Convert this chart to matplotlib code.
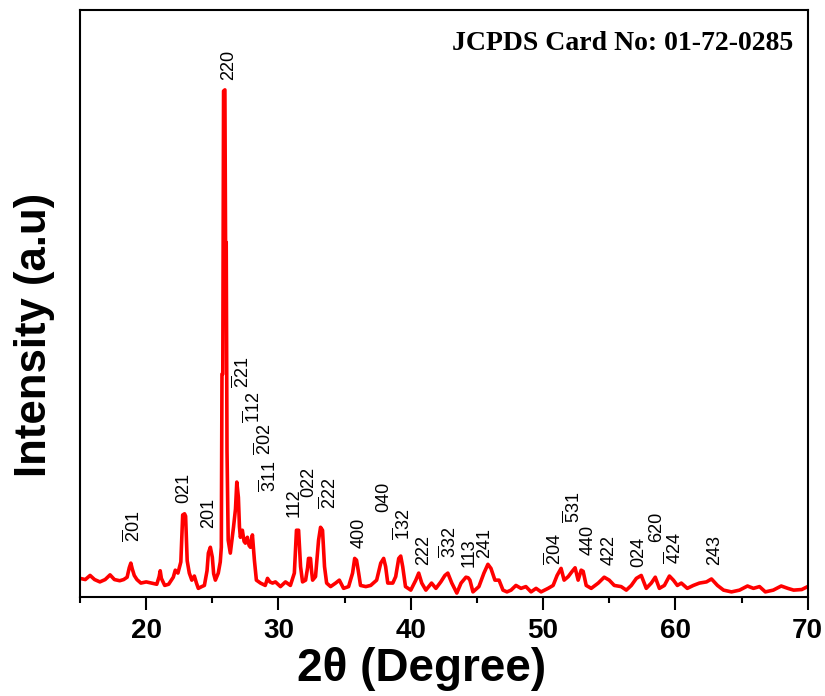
import matplotlib
matplotlib.use("Agg")
import matplotlib.pyplot as plt

plt.rcParams["font.family"] = ["Liberation Sans", "DejaVu Sans"]
plt.rcParams["mathtext.fontset"] = "custom"
plt.rcParams["mathtext.rm"] = "Liberation Sans"
plt.rcParams["mathtext.it"] = "Liberation Sans"
plt.rcParams["mathtext.bf"] = "Liberation Sans:bold"

# XRD scan: 2-theta (deg) and intensity (arbitrary units)
two_theta = [
    15.0, 15.4, 15.76, 16.1, 16.5, 16.9, 17.27, 17.6, 18.0, 18.3, 18.56, 18.72,
    18.84, 18.95, 19.1, 19.3, 19.6, 20.0, 20.4, 20.8, 20.98, 21.06, 21.15, 21.4,
    21.7, 22.05, 22.2, 22.4, 22.62, 22.76, 22.9, 22.98, 23.1, 23.26, 23.45, 23.64,
    23.8, 23.94, 24.2, 24.4, 24.6, 24.7, 24.85, 25.0, 25.1, 25.23, 25.45, 25.6,
    25.68, 25.73, 25.79, 25.85, 25.95, 26.0, 26.05, 26.11, 26.2, 26.36, 26.6,
    26.75, 26.85, 26.97, 27.05, 27.12, 27.27, 27.4, 27.5, 27.65, 27.78, 27.88,
    28.03, 28.18, 28.33, 28.64, 29.0, 29.17, 29.35, 29.55, 29.77, 30.15, 30.53,
    30.9, 31.2, 31.36, 31.52, 31.67, 31.82, 32.05, 32.2, 32.27, 32.42, 32.5,
    32.58, 32.8, 33.03, 33.18, 33.33, 33.48, 33.64, 33.94, 34.32, 34.6, 34.92,
    35.3, 35.6, 35.76, 35.9, 36.06, 36.2, 36.6, 36.97, 37.42, 37.73, 37.95, 38.1,
    38.26, 38.64, 38.86, 39.09, 39.24, 39.39, 39.6, 40.0, 40.38, 40.6, 40.83,
    41.14, 41.57, 41.9, 42.27, 42.58, 42.8, 43.1, 43.48, 43.8, 44.17, 44.34,
    44.47, 44.7, 45.15, 45.53, 45.83, 46.06, 46.36, 46.67, 46.97, 47.27, 47.58,
    47.95, 48.33, 48.7, 49.09, 49.47, 49.85, 50.38, 50.76, 51.06, 51.36, 51.59,
    51.9, 52.2, 52.42, 52.65, 52.88, 53.03, 53.26, 53.64, 54.17, 54.62, 55.0,
    55.38, 55.9, 56.29, 56.67, 57.05, 57.42, 57.8, 58.18, 58.48, 58.79, 59.17,
    59.55, 59.85, 60.15, 60.45, 60.9, 61.36, 61.82, 62.35, 62.73, 63.18, 63.64,
    64.24, 64.85, 65.45, 65.9, 66.36, 66.8, 67.4, 68.0, 68.5, 68.94, 69.55, 70.0,
]
intensity = [
    32, 30, 37, 30, 26, 30, 38, 30, 28, 30, 34, 50,
    58, 48, 37, 30, 24, 26, 24, 22, 35, 45, 32, 20,
    22, 34, 46, 41, 60, 140, 142, 138, 62, 41, 29, 36,
    24, 15, 18, 20, 45, 75, 85, 68, 40, 29, 41, 60,
    85, 380, 380, 862, 864, 604, 604, 250, 97, 75, 119,
    150, 196, 170, 120, 102, 114, 95, 92, 102, 88, 85,
    106, 63, 29, 24, 20, 32, 26, 24, 26, 18, 26,
    20, 41, 114, 114, 52, 26, 29, 50, 66, 66, 45,
    29, 35, 97, 119, 114, 52, 24, 18, 24, 29, 15,
    18, 41, 66, 63, 41, 20, 18, 20, 29, 58, 66, 52,
    24, 24, 35, 66, 70, 52, 18, 12, 29, 41, 24,
    12, 24, 15, 26, 37, 41, 24, 7, 24, 34, 33,
    29, 9, 18, 41, 56, 49, 29, 29, 12, 9, 12,
    20, 15, 18, 9, 15, 9, 15, 20, 37, 49, 29,
    35, 44, 50, 29, 46, 44, 20, 15, 24, 34, 29,
    20, 18, 12, 20, 32, 37, 15, 24, 34, 15, 20,
    36, 29, 20, 24, 15, 20, 24, 26, 31, 20, 12,
    9, 12, 19, 15, 18, 9, 12, 19, 15, 12, 13, 18,
]

# Miller indices (overbar = negative index), with label position and base height
hkl_labels = [
    r"$\overline{2}$01", "021", "201", "220", r"$\overline{2}$21",
    r"$\overline{1}$12", r"$\overline{2}$02", r"$\overline{3}$11", "112", "022",
    r"$\overline{2}$22", "400", "040", r"$\overline{1}$32", "222",
    r"$\overline{3}$32", "113", "241", r"$\overline{2}$04", r"$\overline{5}$31",
    "440", "422", "024", "620", r"$\overline{4}$24", "243",
]
hkl_pos = [
    19.0, 22.83, 24.72, 26.2, 27.25, 28.13, 28.89, 29.27, 31.16, 32.3,
    33.81, 36.08, 37.92, 39.44, 40.95, 42.9, 44.42, 45.6, 50.86, 52.25,
    53.43, 55.03, 57.22, 58.56, 59.9, 62.98,
]
hkl_base = [
    94, 160, 117, 881, 356, 296, 242, 179, 137, 171,
    151, 83, 145, 97, 55, 66, 52, 66, 55, 126,
    72, 55, 52, 94, 57, 55,
]

fig = plt.figure(figsize=(8.25, 6.96), dpi=100)
ax = fig.add_axes([0.097, 0.142, 0.882, 0.8436])

ax.plot(two_theta, intensity, color="#ff0000", lw=2.6, solid_joinstyle="round")

for lab, x, y in zip(hkl_labels, hkl_pos, hkl_base):
    ax.text(x, y, lab, rotation=90, ha="center", va="bottom", fontsize=13)

ax.text(0.98, 0.965, "JCPDS Card No: 01-72-0285", transform=ax.transAxes,
        ha="right", va="top", fontsize=20, fontweight="bold",
        family="Liberation Serif")

ax.set_xlim(15, 70)
ax.set_ylim(0, 1000)
ax.set_xticks([20, 30, 40, 50, 60, 70])
ax.set_xticks([15, 25, 35, 45, 55, 65], minor=True)
ax.set_yticks([])
ax.tick_params(axis="x", which="major", direction="out", length=9, width=1.5,
               labelsize=20, pad=6)
ax.tick_params(axis="x", which="minor", direction="out", length=4.5, width=1.5)
for lbl in ax.get_xticklabels():
    lbl.set_fontweight("bold")
for sp in ax.spines.values():
    sp.set_linewidth(1.5)

ax.set_xlabel("2θ (Degree)", fontsize=33, fontweight="bold")
ax.set_ylabel("Intensity (a.u)", fontsize=31.5, fontweight="bold")
ax.xaxis.set_label_coords(0.47, -0.085)
ax.yaxis.set_label_coords(-0.034, 0.446)

fig.savefig("out.png", dpi=100)
